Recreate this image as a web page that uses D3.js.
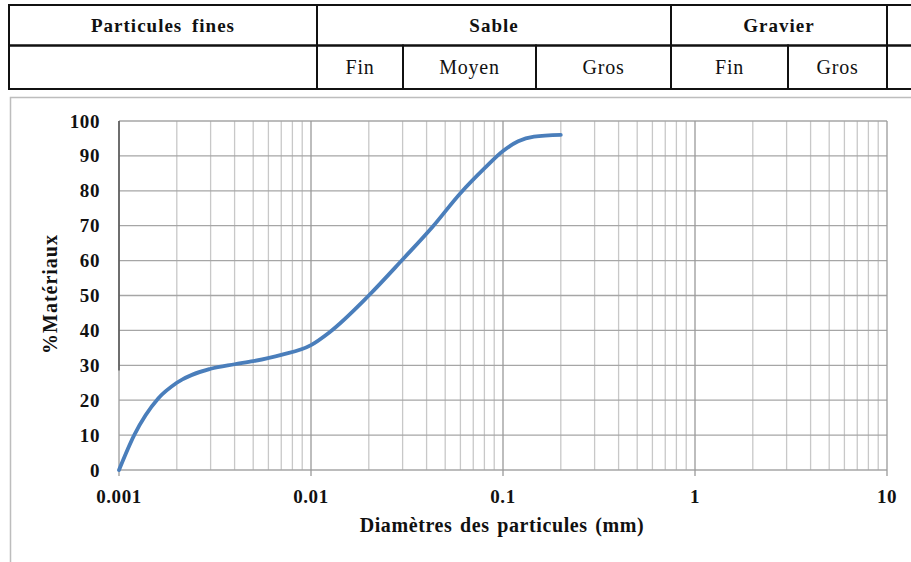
<!DOCTYPE html>
<html>
<head>
<meta charset="utf-8">
<script src="https://cdn.jsdelivr.net/npm/d3@7"></script>
<style>
  html, body { margin: 0; padding: 0; background: #fff; }
  svg { display: block; font-family: "Liberation Serif", "Times New Roman", serif; }
</style>
</head>
<body>
<div id="chart"></div>
<script>
// grain size curve: diameter (mm) vs % passing
const diameters = [0.001, 0.0012, 0.0016, 0.002, 0.003, 0.004, 0.005, 0.007, 0.01, 0.0125,
  0.02, 0.03, 0.043, 0.06, 0.08, 0.1, 0.12, 0.145, 0.2];
const passing = [0, 10, 20.5, 25, 29, 30.3, 31.2, 33, 35.8, 39.5,
  50, 60.3, 69.7, 79.3, 86.4, 91.4, 94.2, 95.5, 96];

const xTicks = [0.001, 0.01, 0.1, 1, 10];
const xTickLabels = ["0.001", "0.01", "0.1", "1", "10"];
const yTicks = [0, 10, 20, 30, 40, 50, 60, 70, 80, 90, 100];

// header table: top row and sub row (label, x from, x to)
const headerTop = [["Particules fines", 9, 317], ["Sable", 317, 671], ["Gravier", 671, 887], ["", 887, 920]];
const headerSub = [["", 9, 317], ["Fin", 317, 403], ["Moyen", 403, 536], ["Gros", 536, 671],
  ["Fin", 671, 788], ["Gros", 788, 887], ["", 887, 920]];

const width = 911;
const height = 562;
const margin = { top: 121, right: 24, bottom: 92, left: 119 };

const svg = d3.select("#chart")
  .append("svg")
  .attr("width", width)
  .attr("height", height);

// --- header table ---
const table = svg.append("g");
const rowTop = 5, rowMid = 45.5, rowBot = 89;

function drawRow(cells, y0, y1, bold) {
  cells.forEach(([label, x0, x1]) => {
    table.append("rect")
      .attr("x", x0).attr("y", y0)
      .attr("width", x1 - x0).attr("height", y1 - y0)
      .attr("fill", "none").attr("stroke", "#111").attr("stroke-width", 2);
    if (label) {
      table.append("text")
        .attr("x", (x0 + x1) / 2).attr("y", (y0 + y1) / 2 + 6.5)
        .attr("text-anchor", "middle")
        .attr("font-size", bold ? 19 : 20)
        .attr("font-weight", bold ? "bold" : "normal")
        .attr("letter-spacing", bold ? 1 : 0.8)
        .attr("word-spacing", bold ? 4 : 0)
        .attr("fill", "#111")
        .text(label);
    }
  });
}
drawRow(headerTop, rowTop, rowMid, true);
drawRow(headerSub, rowMid, rowBot, false);

// chart frame
svg.append("rect")
  .attr("x", 10.5).attr("y", 97.5)
  .attr("width", 920).attr("height", 500)
  .attr("fill", "none").attr("stroke", "#bdbdbd").attr("stroke-width", 1.5);

// --- plot ---
const x = d3.scaleLog()
  .domain([0.001, 10])
  .range([margin.left, width - margin.right]);
const y = d3.scaleLinear()
  .domain([0, 100])
  .range([height - margin.bottom, margin.top]);

const grid = svg.append("g");

// minor vertical lines
const minor = [];
for (let dec = 0.001; dec < 10; dec *= 10) {
  for (let k = 2; k <= 9; k++) minor.push(dec * k);
}
grid.selectAll("line.minor")
  .data(minor)
  .join("line")
  .attr("x1", d => x(d)).attr("x2", d => x(d))
  .attr("y1", y(0)).attr("y2", y(100))
  .attr("stroke", "#c8c8c8").attr("stroke-width", 1.3);

// horizontal lines
grid.selectAll("line.h")
  .data(yTicks)
  .join("line")
  .attr("x1", x(0.001)).attr("x2", x(10))
  .attr("y1", d => y(d)).attr("y2", d => y(d))
  .attr("stroke", "#a6a6a6").attr("stroke-width", 1.3);

// decade lines with tick marks below
grid.selectAll("line.major")
  .data(xTicks)
  .join("line")
  .attr("x1", d => x(d)).attr("x2", d => x(d))
  .attr("y1", y(0) + 6).attr("y2", y(100))
  .attr("stroke", "#9a9a9a").attr("stroke-width", 1.3);

// dark segment on left axis
svg.append("line")
  .attr("x1", x(0.001)).attr("x2", x(0.001))
  .attr("y1", y(100)).attr("y2", y(28.5))
  .attr("stroke", "#555").attr("stroke-width", 1.5);

// tick labels
svg.append("g")
  .selectAll("text")
  .data(yTicks)
  .join("text")
  .attr("x", 100)
  .attr("y", d => y(d) + 6.5)
  .attr("text-anchor", "end")
  .attr("font-size", 19)
  .attr("font-weight", "bold")
  .attr("letter-spacing", 0.6)
  .attr("fill", "#111")
  .text(d => d);

svg.append("g")
  .selectAll("text")
  .data(xTicks)
  .join("text")
  .attr("x", d => x(d))
  .attr("y", 503)
  .attr("text-anchor", "middle")
  .attr("font-size", 19)
  .attr("font-weight", "bold")
  .attr("letter-spacing", 0.6)
  .attr("fill", "#111")
  .text((d, i) => xTickLabels[i]);

// axis titles
svg.append("text")
  .attr("x", 502).attr("y", 532)
  .attr("text-anchor", "middle")
  .attr("font-size", 20)
  .attr("font-weight", "bold")
  .attr("letter-spacing", 0.6)
  .attr("word-spacing", 2)
  .attr("fill", "#111")
  .text("Diamètres des particules (mm)");

svg.append("text")
  .attr("transform", "translate(57,294) rotate(-90)")
  .attr("text-anchor", "middle")
  .attr("font-size", 20)
  .attr("font-weight", "bold")
  .attr("letter-spacing", 1)
  .attr("fill", "#111")
  .text("%Matériaux");

// curve
const line = d3.line()
  .x((d, i) => x(diameters[i]))
  .y(d => y(d))
  .curve(d3.curveMonotoneX);

svg.append("path")
  .datum(passing)
  .attr("d", line)
  .attr("fill", "none")
  .attr("stroke", "#4a7ebb")
  .attr("stroke-width", 3.8)
  .attr("stroke-linecap", "round");
</script>
</body>
</html>
